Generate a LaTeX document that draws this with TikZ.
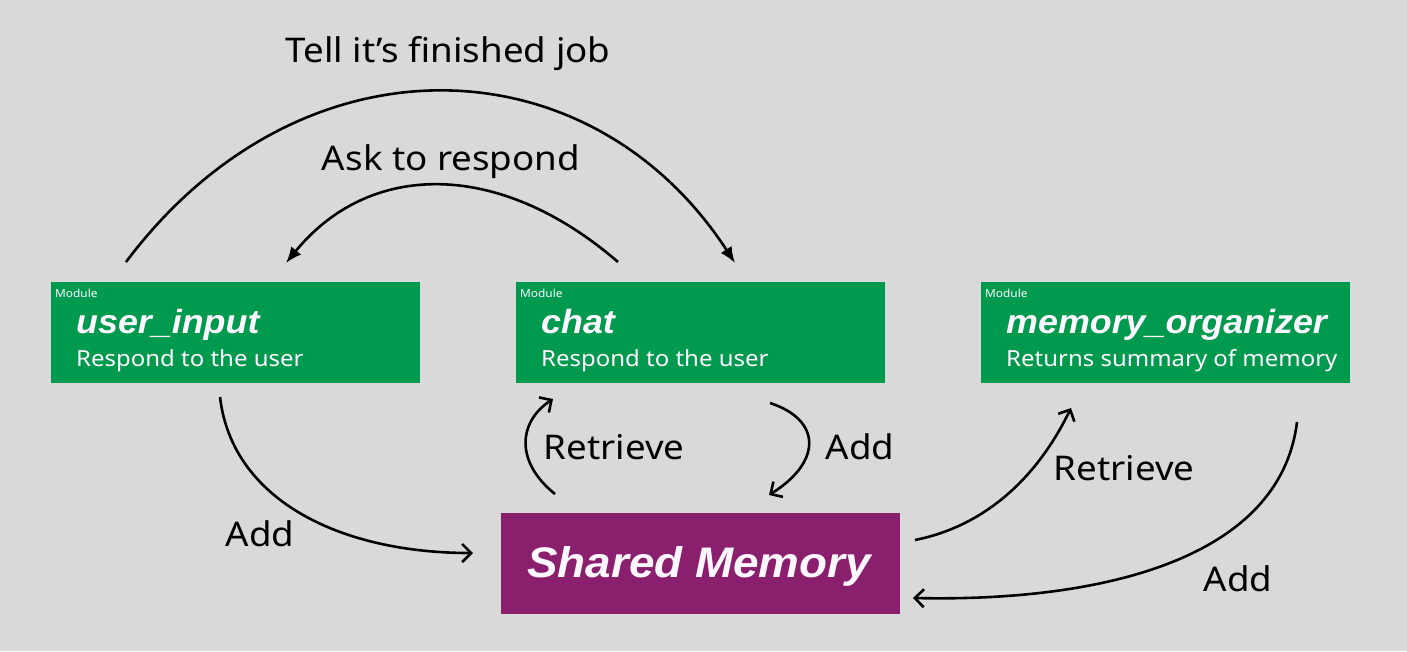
\documentclass[tikz,border=0pt]{standalone}
\usepackage{fontspec}
\setmainfont{Noto Sans}[FakeStretch=1.08]
\newfontfamily\titlefont{Liberation Sans}[FakeStretch=1.07]
\usetikzlibrary{arrows.meta}
\definecolor{bg}{HTML}{D9D9D9}
\definecolor{modgreen}{HTML}{009A4E}
\definecolor{mempurple}{HTML}{8A1F6E}
\definecolor{boxtext}{HTML}{FFF7FF}
\tikzset{
  modbox/.style={fill=modgreen, draw=none, minimum width=369pt, minimum height=101pt, anchor=north west, inner sep=0pt},
  membox/.style={fill=mempurple, draw=none, minimum width=399pt, minimum height=101pt, anchor=north west, inner sep=0pt},
  modtag/.style={anchor=base west, inner sep=0pt, text=boxtext, font=\fontsize{11}{13}\selectfont},
  modtitle/.style={anchor=base west, inner sep=0pt, text=boxtext, font=\titlefont\fontsize{33.5}{38}\selectfont\bfseries\itshape},
  modsub/.style={anchor=base west, inner sep=0pt, text=boxtext, font=\fontsize{22.2}{26}\selectfont},
  lbl/.style={inner sep=0pt, font=\fontsize{34}{40}\selectfont},
  conn/.style={line width=2.6pt, -{Straight Barb[length=9pt,width=18pt,line width=2.6pt]}},
  conntop/.style={line width=2.6pt, -{Latex[length=16pt,width=13pt]}},
}
\begin{document}
\begin{tikzpicture}[x=1pt,y=-1pt]
\fill[bg] (0,0) rectangle (1407,651);
\useasboundingbox (0,0) rectangle (1407,651);

% boxes
\node[modbox] (ui) at (51,282) {};
\node[modbox] (chat) at (516,282) {};
\node[modbox] (mo) at (981,282) {};
\node[membox] (sm) at (501,513) {};

% box texts
\node[modtag] (uitag) at (55,297) {Module};
\node[modtitle] (uititle) at (76,333) {user\_input};
\node[modsub] (uisub) at (76,366) {Respond to the user};

\node[modtag] (chattag) at (520,297) {Module};
\node[modtitle] (chattitle) at (541,333) {chat};
\node[modsub] (chatsub) at (541,366) {Respond to the user};

\node[modtag] (motag) at (985,297) {Module};
\node[modtitle] (motitle) at (1006,333) {memory\_organizer};
\node[modsub] (mosub) at (1006,366) {Returns summary of memory};

\node[inner sep=0pt, text=boxtext, font=\titlefont\fontsize{42.8}{50}\selectfont\bfseries\itshape] (smtitle) at (699,566) {Shared Memory};

% labels
\node[lbl] (ltell) at (448,54) {Tell it’s finished job};
\node[lbl] (lask) at (451,162) {Ask to respond};
\node[lbl] (lret1) at (614,447) {Retrieve};
\node[lbl] (ladd1) at (860,447) {Add};
\node[lbl] (ladd0) at (260,534) {Add};
\node[lbl] (lret2) at (1124,468) {Retrieve};
\node[lbl] (ladd2) at (1238,579) {Add};

% connector end points
\coordinate (tellS) at (126,262);
\coordinate (tellE) at (735,263);
\coordinate (askS) at (618,262);
\coordinate (askE) at (286,263);
\coordinate (uiS) at (220,397);
\coordinate (smW) at (473,553);
\coordinate (smNL) at (555,494);
\coordinate (chatSL) at (553,399);
\coordinate (chatSR) at (770,403);
\coordinate (smNR) at (769,495);
\coordinate (smE1) at (915,540);
\coordinate (moSL) at (1071,408);
\coordinate (moSR) at (1297,422);
\coordinate (smE2) at (913,598);

% connectors
\draw[conntop] (tellS) .. controls (300,30) and (590,40) .. (tellE);
\draw[conntop] (askS) .. controls (500,160) and (370,160) .. (askE);
\draw[conn] (uiS) .. controls (232,500) and (340,553) .. (smW);
\draw[conn] (smNL) .. controls (515,462) and (518,422) .. (chatSL);
\draw[conn] (chatSR) .. controls (822,420) and (822,462) .. (smNR);
\draw[conn] (smE1) .. controls (990,525) and (1040,472) .. (moSL);
\draw[conn] (moSR) .. controls (1280,560) and (1100,602) .. (smE2);
\end{tikzpicture}
\end{document}
